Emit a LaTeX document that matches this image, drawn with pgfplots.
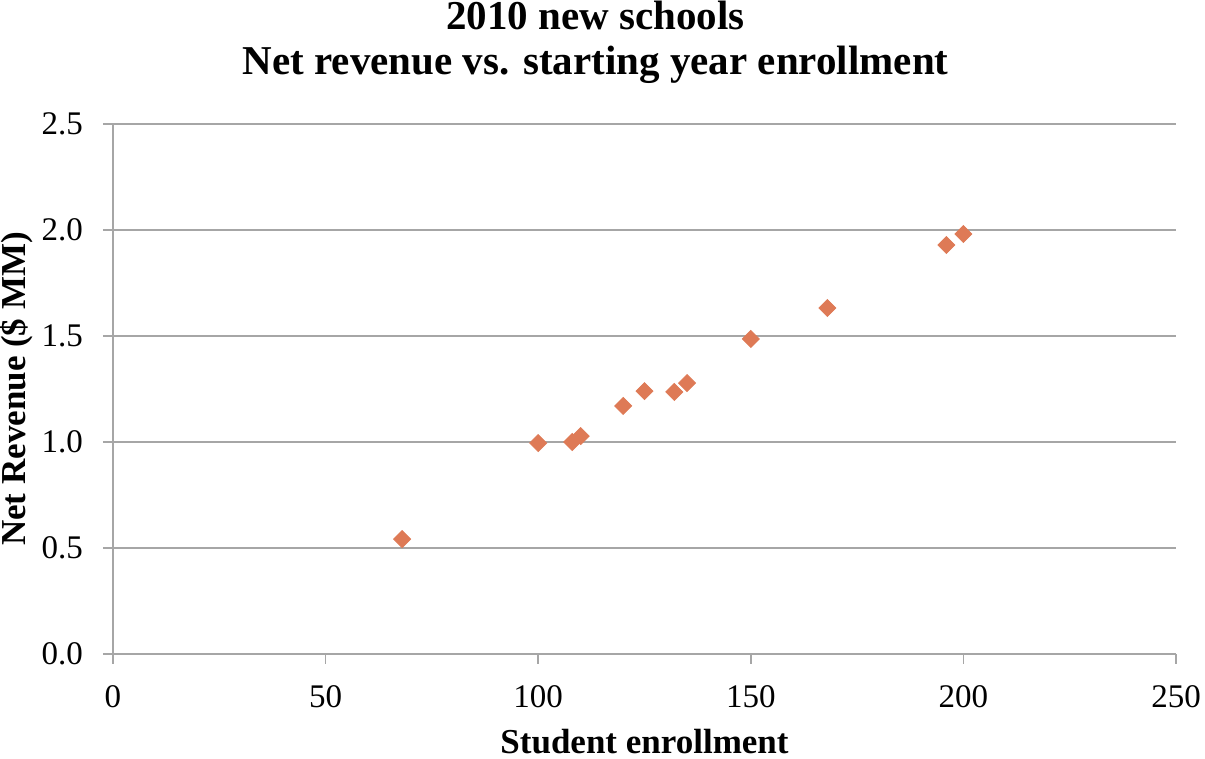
\documentclass[border=0pt]{standalone}
\usepackage{pgfplots}
\pgfplotsset{compat=1.18}
\usepackage{fontspec}
\setmainfont{Liberation Serif}
\definecolor{mk}{RGB}{222,122,86}
\definecolor{gr}{RGB}{166,166,166}
\begin{document}
\begin{tikzpicture}
\useasboundingbox (-56.5pt,-52.5pt) rectangle (546pt,327pt);
\begin{axis}[
  at={(0,0)}, anchor=south west,
  scale only axis,
  width=531.5pt, height=265pt,
  xmin=0, xmax=250, ymin=0, ymax=2.5,
  xtick={0,50,...,250}, ytick={0,0.5,...,2.5},
  axis x line*=bottom, axis y line*=left,
  axis line style={gr, line width=0.8pt},
  x axis line style={-}, y axis line style={-},
  tick style={gr, line width=0.8pt},
  tick align=outside, major tick length=5pt,
  ymajorgrids, grid style={gr, line width=0.8pt},
  /pgf/number format/assume math mode=true,
  yticklabel style={/pgf/number format/fixed, /pgf/number format/fixed zerofill, /pgf/number format/precision=1, font=\fontsize{16.5}{19}\selectfont, xshift=-6.5pt},
  xticklabel style={font=\fontsize{16.5}{19}\selectfont, yshift=-7pt},
  scaled y ticks=false,
  xlabel={\textbf{Student enrollment}},
  ylabel={\textbf{Net Revenue (\$ MM)}},
  xlabel style={font=\fontsize{17.5}{20}\selectfont, at={(axis description cs:0.5,0)}, anchor=base, yshift=-50pt},
  ylabel style={font=\fontsize{17.5}{20}\selectfont, at={(axis description cs:-0.082,0.5)}, anchor=base},
  title={\textbf{2010 new schools}\\\textbf{Net revenue vs. starting year enrollment}},
  title style={font=\fontsize{20.5}{22.5}\selectfont, align=center, at={(axis description cs:0.454,1)}, anchor=base, yshift=18.5pt},
]
\addplot[only marks, mark=square*, mark size=3pt, mark options={fill=mk, draw=mk, rotate=45, rounded corners=0.5pt}] coordinates {
(68,0.542) (100,0.995) (108,1.0) (110,1.028) (120,1.17) (125,1.24) (132,1.236) (135,1.278) (150,1.486) (168,1.632) (196,1.929) (200,1.981)
};
\end{axis}
\end{tikzpicture}
\end{document}
